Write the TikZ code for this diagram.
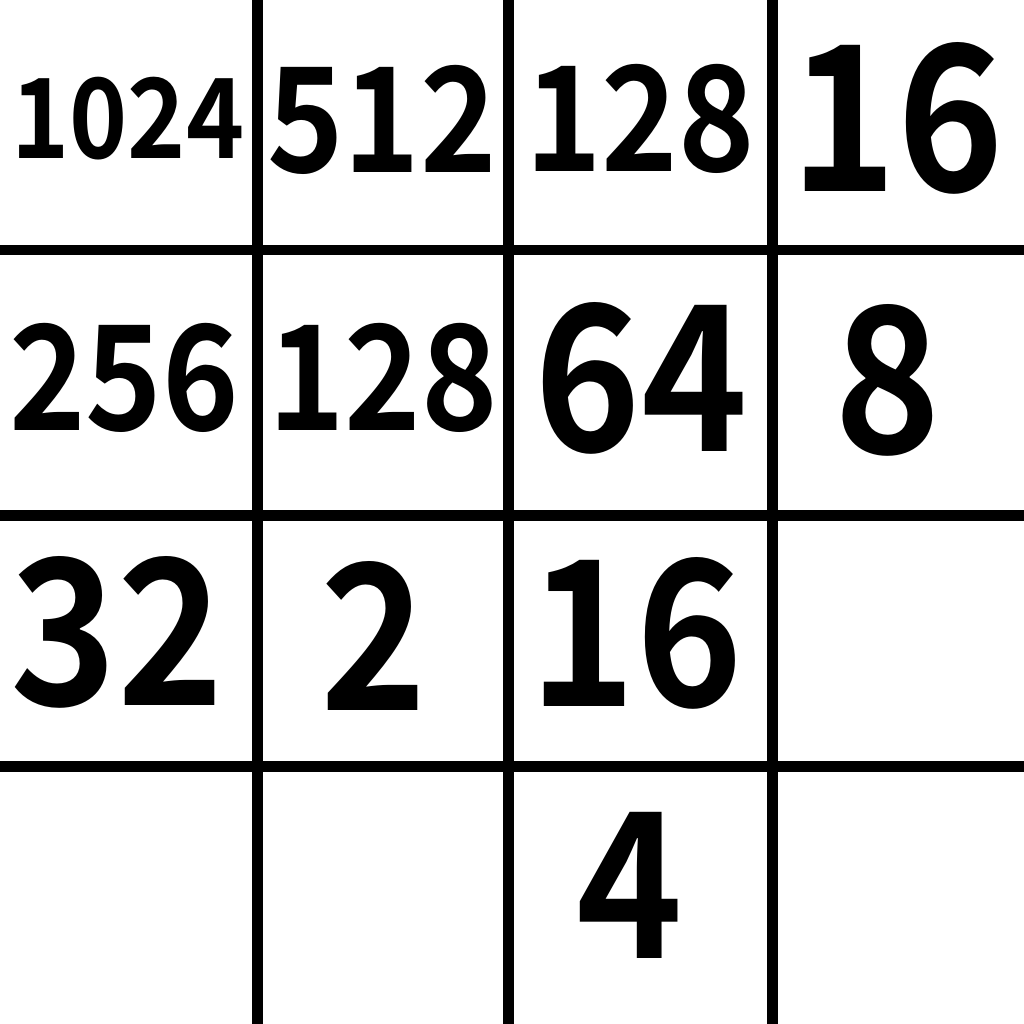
\documentclass[tikz,border=0pt]{standalone}
\usepackage{fontspec}
\setmainfont{Noto Sans CJK JP Bold}[FakeStretch=0.89]
\usepackage{tikz}

\begin{document}
\begin{tikzpicture}[x=0.1mm,y=-0.1mm]
        \useasboundingbox (0,0) rectangle (1024,1024);
        \begin{scope}[every node/.style={inner sep=0}, every path/.style={line width=3.1pt}]
                % grid lines
                \foreach \gx in {257.5,508.5,772.5}
                        \draw (\gx,0) -- (\gx,1024);
                \foreach \gy in {250,515.5,766.5}
                        \draw (0,\gy) -- (1024,\gy);

                % row 1
                \node[font=\fontsize{31.5}{32}\selectfont] (R1C1) at (128,119) {1024};
                \node[font=\fontsize{41.5}{42}\selectfont] (R1C2) at (382,119.5) {512};
                \node[font=\fontsize{41.5}{42}\selectfont] (R1C3) at (640,119) {128};
                \node[font=\fontsize{57.7}{58}\selectfont] (R1C4) at (897,118) {16};
                % row 2
                \node[font=\fontsize{41.5}{42}\selectfont] (R2C1) at (124,377.5) {256};
                \node[font=\fontsize{41.5}{42}\selectfont] (R2C2) at (383,378) {128};
                \node[font=\fontsize{57.7}{58}\selectfont] (R2C3) at (641,378) {64};
                \node[font=\fontsize{57.7}{58}\selectfont] (R2C4) at (888,380) {8};
                % row 3
                \node[font=\fontsize{57.7}{58}\selectfont] (R3C1) at (117,632) {32};
                \node[font=\fontsize{57.7}{58}\selectfont] (R3C2) at (374,636) {2};
                \node[font=\fontsize{57.7}{58}\selectfont] (R3C3) at (636,633) {16};
                % row 4
                \node[font=\fontsize{57.7}{58}\selectfont] (R4C3) at (630,885) {4};
        \end{scope}
\end{tikzpicture}
\end{document}
